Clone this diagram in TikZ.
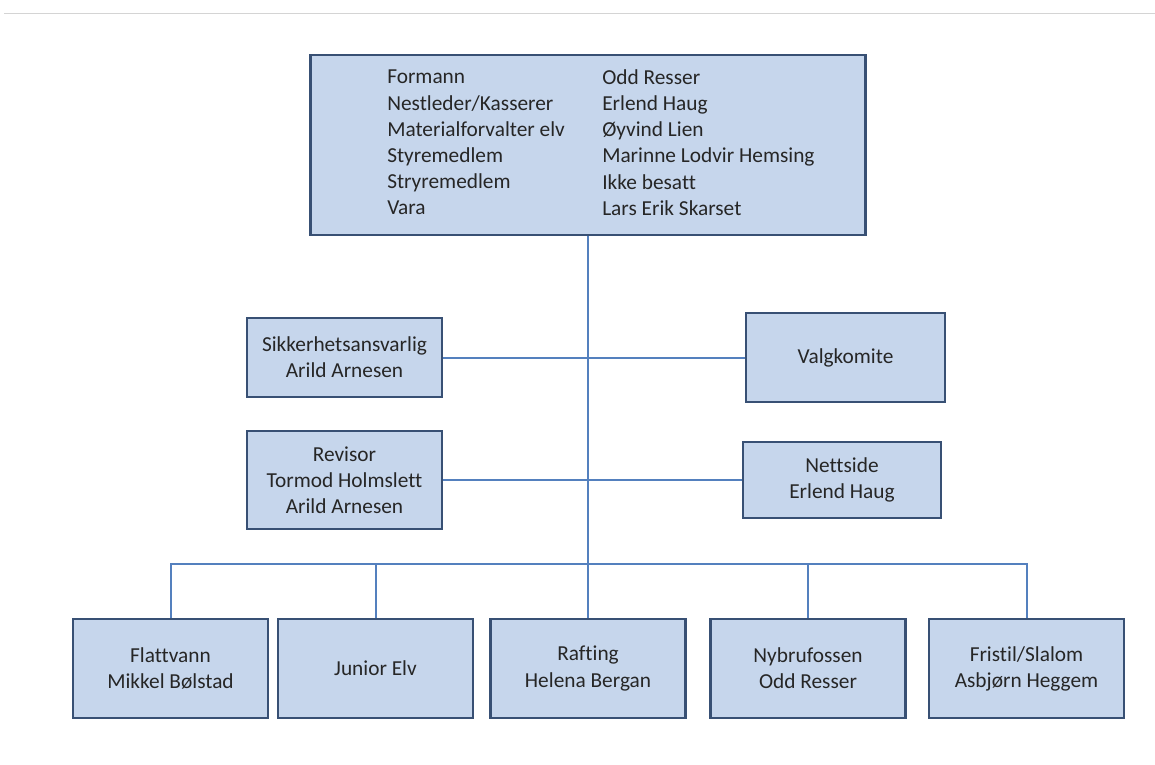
\documentclass[tikz,border=0pt]{standalone}
\usepackage{fontspec}
\setmainfont{Carlito}[Ligatures=NoCommon]
\usepackage{tikz}
\usetikzlibrary{
  positioning,
  backgrounds,  % Connectors go behind the boxes
  calc,
}
\definecolor{boxfill}{RGB}{198,214,236}
\definecolor{boxline}{RGB}{56,80,116}
\definecolor{linkline}{RGB}{84,128,190}
\definecolor{textgray}{RGB}{38,38,38}
\def\mybusy{564}
\def\myteamy{668.5}
\tikzset{
  font=\fontsize{16}{19.6}\selectfont,
  my box/.style={
    draw=boxline,
    fill=boxfill,
    line width=2.1pt,
    text=textgray,
    align=center,
    inner sep=0mm,
    rectangle
  },
  my team/.style={
    my box,
    minimum width=146.25pt,
    minimum height=74.25pt
  },
  my list/.style={
    anchor=west,
    align=left,
    text=textgray,
    inner sep=0mm
  },
  link/.style={
    draw=linkline,
    line width=1.5pt
  },
  top rule/.style={
    draw=black!17,
    line width=1.2pt
  }
}
\begin{document}
\begin{tikzpicture}[x=0.75pt,y=-0.75pt]
\useasboundingbox (0,0) rectangle (1155,764);
\draw[top rule] (4,13.5) -- (1155,13.5);

% Styre
\node[my box, minimum width=416.25pt, minimum height=135pt] (board) at (588,145) {};
\node[my list] (roles) at (387,142.5) {Formann\\Nestleder/Kasserer\\Materialforvalter elv\\Styremedlem\\Stryremedlem\\Vara};
\node[my list] (names) at (602,142.5) {Odd Resser\\Erlend Haug\\Øyvind Lien\\Marinne Lodvir Hemsing\\Ikke besatt\\Lars Erik Skarset};

% Sideverv
\node[my box, minimum width=146.25pt, minimum height=59.25pt] (safety)  at (344.5,357.5) {Sikkerhetsansvarlig\\Arild Arnesen};
\node[my box, minimum width=149.25pt, minimum height=66.75pt] (valg)    at (845.5,357.5) {Valgkomite};
\node[my box, minimum width=146.25pt, minimum height=73.5pt]  (revisor) at (344.5,480)   {Revisor\\Tormod Holmslett\\Arild Arnesen};
\node[my box, minimum width=148.5pt,  minimum height=57pt]    (web)     at (842,480)     {Nettside\\Erlend Haug};

% Grupper
\node[my team] (flat)    at (170.5,\myteamy) {Flattvann\\Mikkel Bølstad};
\node[my team] (junior)  at (375.5,\myteamy) {Junior Elv};
\node[my team] (raft)    at (588,\myteamy)   {Rafting\\Helena Bergan};
\node[my team] (nybru)   at (808,\myteamy)   {Nybrufossen\\Odd Resser};
\node[my team] (fristil) at (1026.5,\myteamy) {Fristil/Slalom\\Asbjørn Heggem};
\coordinate (bus) at (588,\mybusy);

\begin{scope}[on background layer]
\draw[link] (board.south) -- (raft.north);
\draw[link] (safety.east) -- (valg.west);
\draw[link] (revisor.east) -- (web.west);
\draw[link] (flat.north) |- (bus) -| (fristil.north);
\draw[link] (junior.north) -- (junior.north |- bus);
\draw[link] (nybru.north) -- (nybru.north |- bus);
\end{scope}
\end{tikzpicture}
\end{document}
